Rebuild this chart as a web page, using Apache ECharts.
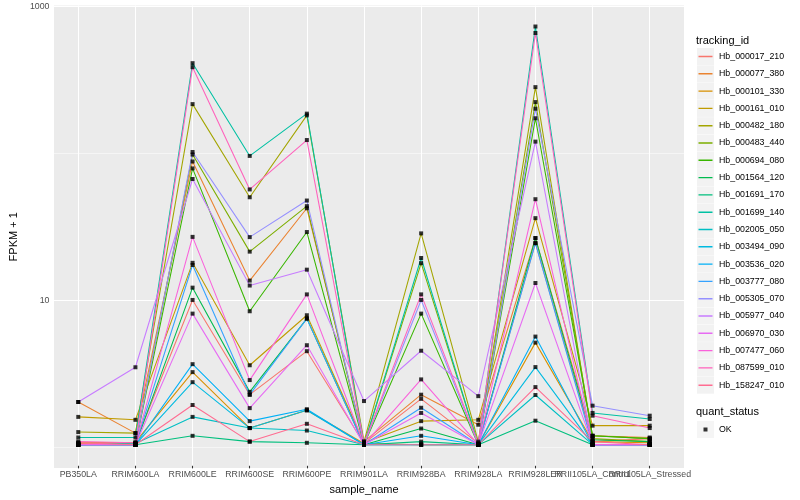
<!DOCTYPE html>
<html><head><meta charset="utf-8">
<script src="https://cdn.jsdelivr.net/npm/echarts@6/dist/echarts.min.js"></script>
<style>html,body{margin:0;padding:0;background:#fff}#c{width:800px;height:500px}</style>
</head><body><div id="c"></div>
<script>
// ---------------- data ----------------
const categories = ['PB350LA','RRIM600LA','RRIM600LE','RRIM600SE','RRIM600PE','RRIM901LA','RRIM928BA','RRIM928LA','RRIM928LER','RRII105LA_Control','RRII105LA_Stressed'];
const trackingIds = ['Hb_000017_210','Hb_000077_380','Hb_000101_330','Hb_000161_010','Hb_000482_180','Hb_000483_440','Hb_000694_080','Hb_001564_120','Hb_001691_170','Hb_001699_140','Hb_002005_050','Hb_003494_090','Hb_003536_020','Hb_003777_080','Hb_005305_070','Hb_005977_040','Hb_006970_030','Hb_007477_060','Hb_087599_010','Hb_158247_010'];
const lineColors = ['#F8766D','#EA8331','#D89000','#C09B00','#A3A500','#7CAE00','#39B600','#00BB4E','#00BF7D','#00C1A3','#00BFC4','#00BAE0','#00B0F6','#35A2FF','#9590FF','#C77CFF','#E76BF3','#FA62DB','#FF62BC','#FF6C91'];

const hb_000017_210 = [1.02, 1.03, 9.8, 2.2, 4.37, 1.02, 2.06, 1.02, 24, 1.05, 1.1];
const hb_000077_380 = [1.96, 1.2, 87, 13.3, 41.6, 1.05, 2.2, 1.37, 26, 1.15, 1.12];
const hb_000101_330 = [1.03, 1.04, 3.14, 1.3, 1.72, 1.02, 1.0, 1.0, 5.0, 1.05, 1.03];
const hb_000161_010 = [1.55, 1.48, 17.6, 3.5, 7.7, 1.03, 1.45, 1.48, 35.6, 1.35, 1.35];
const hb_000482_180 = [1.22, 1.2, 215, 49.5, 180, 1.05, 28, 1.05, 281, 1.1, 1.05];
const hb_000483_440 = [1.0, 1.02, 97, 21, 43, 1.0, 17.5, 1.0, 222, 1.15, 1.1];
const hb_000694_080 = [1.0, 1.0, 78, 8.2, 28.6, 1.0, 7.9, 1.0, 172, 1.15, 1.1];
const hb_001564_120 = [1.0, 1.0, 11.9, 2.3, 7.3, 1.0, 1.29, 1.0, 26, 1.08, 1.05];
const hb_001691_170 = [1.0, 1.0, 1.15, 1.05, 1.03, 1.0, 1.05, 1.0, 1.46, 1.0, 1.0];
const hb_001699_140 = [1.12, 1.12, 410, 95, 185, 1.0, 19, 1.0, 731, 1.65, 1.5];
const hb_002005_050 = [1.0, 1.02, 1.55, 1.3, 1.25, 1.0, 1.0, 1.0, 2.19, 1.0, 1.0];
const hb_003494_090 = [1.0, 1.0, 2.68, 1.3, 1.72, 1.0, 1.0, 1.0, 3.4, 1.0, 1.0];
const hb_003536_020 = [1.0, 1.0, 3.56, 1.45, 1.75, 1.0, 1.15, 1.0, 5.5, 1.0, 1.0];
const hb_003777_080 = [1.0, 1.0, 17, 2.2, 7.3, 1.0, 1.79, 1.0, 24, 1.0, 1.0];
const hb_005305_070 = [1.0, 1.0, 101, 26.4, 47, 1.0, 9.8, 1.0, 200, 1.85, 1.58];
const hb_005977_040 = [1.96, 3.39, 66, 12.3, 15.8, 1.99, 4.4, 2.15, 119, 1.0, 1.0];
const hb_006970_030 = [1.0, 1.0, 7.9, 1.78, 4.8, 1.0, 1.65, 1.0, 12.8, 1.0, 1.0];
const hb_007477_060 = [1.0, 1.0, 26.5, 2.77, 10.7, 1.0, 2.8, 1.0, 48, 1.0, 1.0];
const hb_087599_010 = [1.05, 1.03, 385, 56, 122, 1.02, 10.7, 1.02, 660, 1.58, 1.3];
const hb_158247_010 = [1.03, 1.0, 1.87, 1.05, 1.39, 1.0, 1.0, 1.0, 2.48, 1.05, 1.0];

const seriesValues = [hb_000017_210, hb_000077_380, hb_000101_330, hb_000161_010, hb_000482_180, hb_000483_440, hb_000694_080, hb_001564_120, hb_001691_170, hb_001699_140, hb_002005_050, hb_003494_090, hb_003536_020, hb_003777_080, hb_005305_070, hb_005977_040, hb_006970_030, hb_007477_060, hb_087599_010, hb_158247_010];

const yMajorBreaks = [10, 1000];
const yMinorBreaks = [1, 100];
const yTickLabels = ['10', '1000'];
const quantStatus = ['OK'];

// ---------------- layout ----------------
const W = 800, H = 500;
const panelL = 44, panelR = 684, panelT = 5.6, panelB = 468;
const step = (panelR - panelL) / (categories.length - 1 + 1.2);
const inset = 0.1 * step;
const FONT = '"Liberation Sans", Arial, Helvetica, sans-serif';

const all = seriesValues.flat();
const lmin = Math.log10(Math.min(...all)), lmax = Math.log10(Math.max(...all));
const D = lmax - lmin;
const yMin = Math.pow(10, lmin - 0.05 * D), yMax = Math.pow(10, lmax + 0.05 * D);

const majorW = 1.07, minorW = 0.53;

const lineSeries = trackingIds.map((id, i) => ({
  name: id, type: 'line', xAxisIndex: 1, yAxisIndex: 1,
  data: seriesValues[i], symbol: 'none', color: lineColors[i],
  lineStyle: { width: 1.07, color: lineColors[i] }, z: 3 + i * 0.001, silent: true
}));

const points = [];
seriesValues.forEach(vals => vals.forEach((v, j) => points.push([j, v])));

const hGrid = [];
yMinorBreaks.forEach(v => hGrid.push({ yAxis: v, lineStyle: { width: minorW } }));
yMajorBreaks.forEach(v => hGrid.push({ yAxis: v, lineStyle: { width: majorW } }));

const lineIcon = 'path://M0,0L0.01,0L0,0.01ZM1.5,7.8H15.5V9.2H1.5ZM17,17L16.99,17L17,16.99Z';
const okIcon = 'path://M0,0L0.01,0L0,0.01ZM6.5,6.5H10.5V10.5H6.5ZM17,17L16.99,17L17,16.99Z';

const legendTop = 48, legendLeft = 697;
const legendCommon = {
  orient: 'vertical', left: legendLeft, itemWidth: 17, itemHeight: 17, itemGap: 0.3,
  selectedMode: false, padding: 0,
  textStyle: { fontSize: 8.8, color: '#000', fontFamily: FONT }
};

const option = {
  animation: false,
  backgroundColor: '#fff',
  textStyle: { fontFamily: FONT },
  title: [
    { text: 'tracking_id', left: 696, top: 35.2, padding: 0, textStyle: { fontSize: 11, fontWeight: 'normal', color: '#000', fontFamily: FONT } },
    { text: 'quant_status', left: 696, top: 406, padding: 0, textStyle: { fontSize: 11, fontWeight: 'normal', color: '#000', fontFamily: FONT } }
  ],
  legend: [
    Object.assign({}, legendCommon, { top: legendTop, data: trackingIds, icon: 'rect', itemStyle: { color: '#F2F2F2' }, textStyle: { fontSize: 8.8, color: 'rgba(0,0,0,0)', fontFamily: FONT }, z: 1 }),
    Object.assign({}, legendCommon, { top: legendTop, data: trackingIds.map(n => ({ name: n, icon: lineIcon })), z: 2 }),
    Object.assign({}, legendCommon, { top: 421, data: quantStatus, icon: 'rect', itemStyle: { color: '#F2F2F2' }, textStyle: { fontSize: 8.8, color: 'rgba(0,0,0,0)', fontFamily: FONT }, z: 1 }),
    Object.assign({}, legendCommon, { top: 421, data: quantStatus.map(n => ({ name: n, icon: okIcon })), z: 2 })
  ],
  grid: [
    { left: panelL, right: W - panelR, top: panelT, bottom: H - panelB, show: true, backgroundColor: '#EBEBEB', borderWidth: 0 },
    { left: panelL + inset, right: W - panelR + inset, top: panelT, bottom: H - panelB, show: false }
  ],
  xAxis: [
    { gridIndex: 0, type: 'category', data: categories, show: false },
    { gridIndex: 1, type: 'category', data: categories, boundaryGap: true,
      axisLine: { show: false },
      axisTick: { show: true, alignWithLabel: true, length: 2.75, lineStyle: { color: '#333333', width: 1.07 } },
      axisLabel: { interval: 0, fontSize: 8.8, color: '#4D4D4D', margin: 4.5, fontFamily: FONT },
      splitLine: { show: false },
      name: 'sample_name', nameLocation: 'middle', nameGap: 14,
      nameTextStyle: { fontSize: 11, color: '#000', fontFamily: FONT } }
  ],
  yAxis: [
    { gridIndex: 0, type: 'log', logBase: 10, min: yMin, max: yMax,
      axisLine: { show: false }, axisTick: { show: false }, splitLine: { show: false }, minorTick: { show: false },
      axisLabel: { fontSize: 8.8, color: '#4D4D4D', margin: 4.5, fontFamily: FONT,
        showMinLabel: false, showMaxLabel: false,
        formatter: v => { const k = yMajorBreaks.findIndex(b => Math.abs(Math.log10(v) - Math.log10(b)) < 1e-6); return k >= 0 ? yTickLabels[k] : ''; } },
      name: 'FPKM + 1', nameLocation: 'middle', nameGap: 25, nameRotate: 90,
      nameTextStyle: { fontSize: 11, color: '#000', fontFamily: FONT } },
    { gridIndex: 1, type: 'log', logBase: 10, min: yMin, max: yMax, show: false, splitLine: { show: false } }
  ],
  series: [
    { name: '_hgrid', type: 'line', xAxisIndex: 0, yAxisIndex: 0, data: [], silent: true, z: 1,
      markLine: { silent: true, symbol: ['none', 'none'], label: { show: false }, z: 1, animation: false,
        lineStyle: { color: '#FFFFFF', type: 'solid', width: majorW }, emphasis: { disabled: true }, data: hGrid } },
    { name: '_vgrid', type: 'line', xAxisIndex: 1, yAxisIndex: 1, data: [], silent: true, z: 1,
      markLine: { silent: true, symbol: ['none', 'none'], label: { show: false }, z: 1, animation: false,
        lineStyle: { color: '#FFFFFF', type: 'solid', width: majorW }, emphasis: { disabled: true },
        data: categories.map(c => ({ xAxis: c })) } },
    ...lineSeries,
    { name: 'OK', type: 'scatter', xAxisIndex: 1, yAxisIndex: 1, data: points, symbol: 'rect', symbolSize: 4,
      itemStyle: { color: '#000' }, z: 5, silent: true }
  ]
};

const chart = echarts.init(document.getElementById('c'), null, { renderer: 'canvas' });
chart.setOption(option);
</script>
</body></html>
